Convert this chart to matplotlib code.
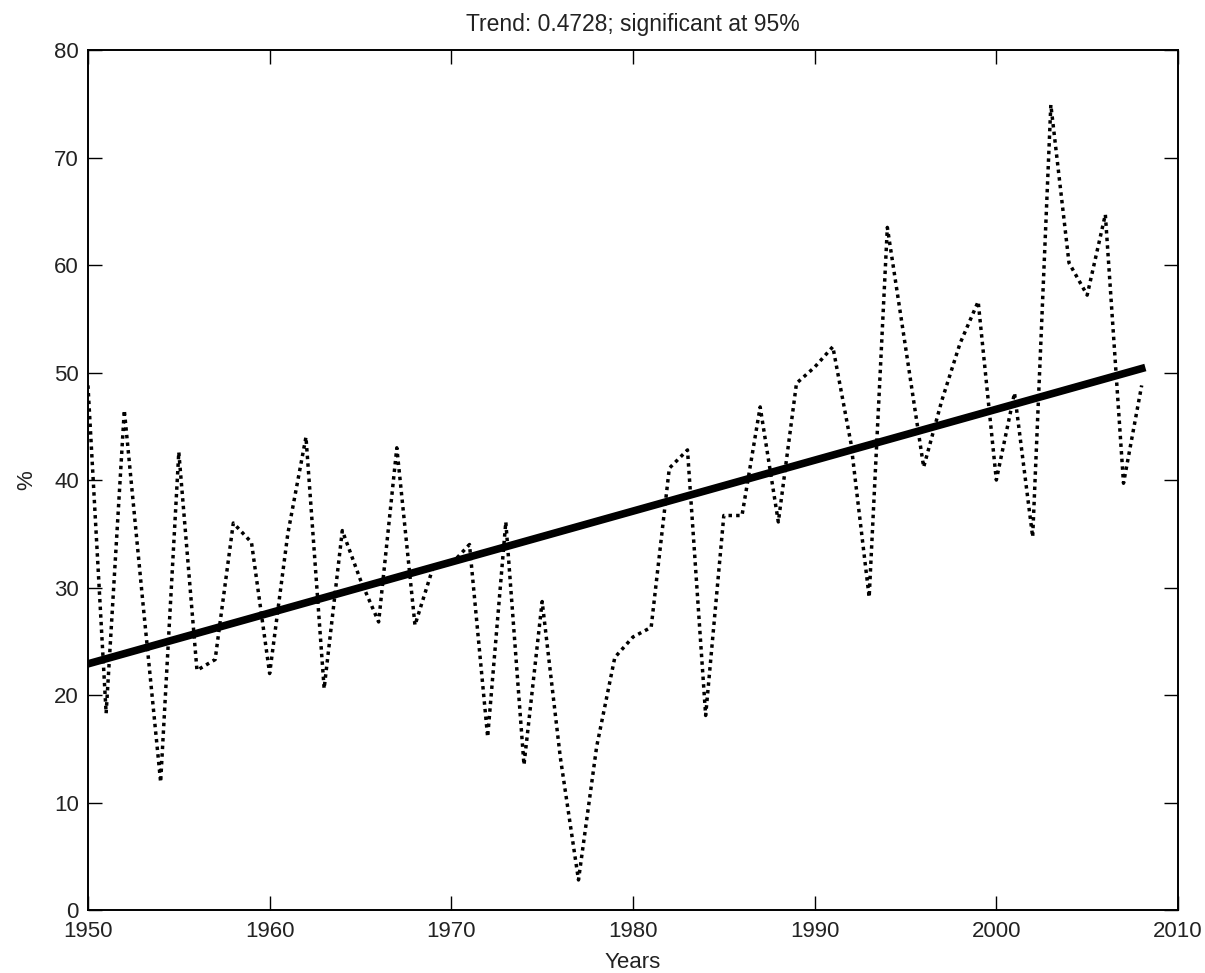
import numpy as np
import matplotlib
matplotlib.use("Agg")
from matplotlib import pyplot as plt
from matplotlib import font_manager

# Yearly values
years = np.arange(1950, 2009)
pct = [48.8, 18.3, 46.5, 29.0, 11.9, 42.6, 22.3, 23.3, 36.0, 34.2,
       22.0, 35.0, 44.0, 20.6, 35.3, 30.7, 26.8, 43.0, 26.5, 31.9,
       32.2, 34.0, 16.1, 36.1, 13.5, 28.7, 14.2, 2.8, 15.2, 23.5,
       25.4, 26.3, 41.1, 42.8, 18.1, 36.7, 36.7, 46.8, 36.1, 49.0,
       50.5, 52.4, 43.4, 29.1, 63.5, 52.4, 41.2, 47.4, 52.7, 56.6,
       40.0, 48.1, 34.7, 74.9, 60.2, 57.2, 64.7, 39.7, 48.8]
title = "Trend: 0.4728; significant at 95%"

# Linear fit through the series
coef = np.polyfit(years, pct, 1)
trend = np.polyval(coef, years)

# narrow face for the tick labels if it is there
names = set(f.name for f in font_manager.fontManager.ttflist)
if 'Liberation Sans Narrow' in names:
    narrow = ['Liberation Sans Narrow', 'DejaVu Sans']
    nsize = 18
else:
    narrow = ['Liberation Sans', 'DejaVu Sans']
    nsize = 16

plt.rcParams['font.family'] = ['Liberation Sans', 'DejaVu Sans']
fig = plt.figure(figsize=(12.05, 9.73), dpi=100)
ax = fig.add_axes([0.073, 0.0647, 0.9046, 0.8839])

ax.plot(years, pct, color='black', linestyle=(0, (1, 1.2)), linewidth=2.5)
ax.plot(years, trend, color='black', linewidth=5.5)

ax.set_xlim(1950, 2010)
ax.set_ylim(0, 80)
ax.set_xticks(np.arange(1950, 2011, 10))
ax.set_yticks(np.arange(0, 81, 10))
ax.tick_params(direction='in', length=10, width=1, top=True, right=True)
ax.tick_params(axis='x', pad=8)
ax.tick_params(axis='y', pad=6.5)
for lab in ax.get_xticklabels() + ax.get_yticklabels():
    lab.set_family(narrow)
    lab.set_fontsize(nsize)
    lab.set_color('#222222')
for s in ax.spines.values():
    s.set_linewidth(1.4)

ax.set_title(title, fontsize=16.5, pad=14, color='#222222')
ax.set_xlabel("Years", family=narrow, fontsize=nsize, labelpad=7,
              color='#222222')
ax.set_ylabel("%", family=narrow, fontsize=nsize, labelpad=12,
              color='#222222')

fig.savefig("out.png", dpi=100)
